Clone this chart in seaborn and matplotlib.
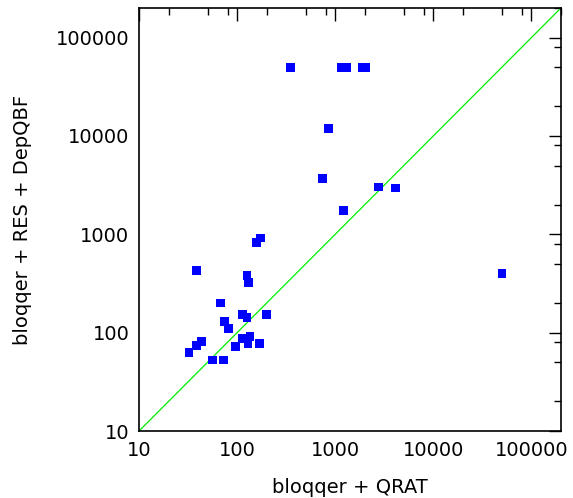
import matplotlib
matplotlib.use("Agg")
import matplotlib.pyplot as plt
import matplotlib.ticker as mticker
import pandas as pd
import seaborn as sns

# runtimes (seconds); 50000 = timeout
qrat_time = [352, 1162, 1306, 1900, 2040, 851, 745, 2750, 4080, 1216, 50000,
             174, 157, 38.3, 126, 131, 68, 113.5, 126, 199, 75, 81.7,
             43.5, 38.3, 32.3, 114, 135, 129, 169, 97, 55.7, 72.8]
depqbf_time = [50000, 50000, 50000, 50000, 50000, 12000, 3700, 3020, 2950, 1740, 400,
               916, 828, 429, 378, 324, 200, 152, 143, 152, 130, 111,
               81, 73.5, 63, 88, 91, 77, 77, 72, 52.8, 52.8]
diag = [10, 200000]
tick_vals = [10, 100, 1000, 10000, 100000]

sns.set_style("white")
plt.rcParams["font.family"] = ["DejaVu Sans"]
plt.rcParams["text.color"] = "black"
plt.rcParams["axes.labelcolor"] = "black"
plt.rcParams["xtick.color"] = "black"
plt.rcParams["ytick.color"] = "black"

df = pd.DataFrame({"qrat": qrat_time, "depqbf": depqbf_time})
line_df = pd.DataFrame({"x": diag, "y": diag})

fig = plt.figure(figsize=(5.73, 4.98), dpi=100)
ax = fig.add_axes([0.2426, 0.1345, 0.7364, 0.8495])

sns.lineplot(data=line_df, x="x", y="y", color="#00ee00", linewidth=0.9, ax=ax)
sns.scatterplot(data=df, x="qrat", y="depqbf", marker="s", s=40, color="#0000ff",
                edgecolor="none", ax=ax, zorder=3)

ax.set_xscale("log")
ax.set_yscale("log")
ax.set_xlim(10, 200000)
ax.set_ylim(10, 200000)

for axis in (ax.xaxis, ax.yaxis):
    axis.set_major_locator(mticker.FixedLocator(tick_vals))
    axis.set_major_formatter(mticker.FuncFormatter(lambda v, p: f"{int(round(v))}"))
    axis.set_minor_locator(mticker.LogLocator(base=10, subs=[2, 5, 8]))
    axis.set_minor_formatter(mticker.NullFormatter())

ax.tick_params(which="both", direction="in", top=True, right=True, color="black",
               labelcolor="black", labelsize=14, pad=7)
ax.tick_params(which="major", length=9, width=1)
ax.tick_params(which="minor", length=5, width=1)
for sp in ax.spines.values():
    sp.set_color("black")
    sp.set_linewidth(1.2)

ax.set_xlabel("bloqqer + QRAT", fontsize=14, labelpad=13, color="black")
ax.set_ylabel("bloqqer + RES + DepQBF", fontsize=14, labelpad=17, color="black")

fig.savefig("out.png", dpi=100)
